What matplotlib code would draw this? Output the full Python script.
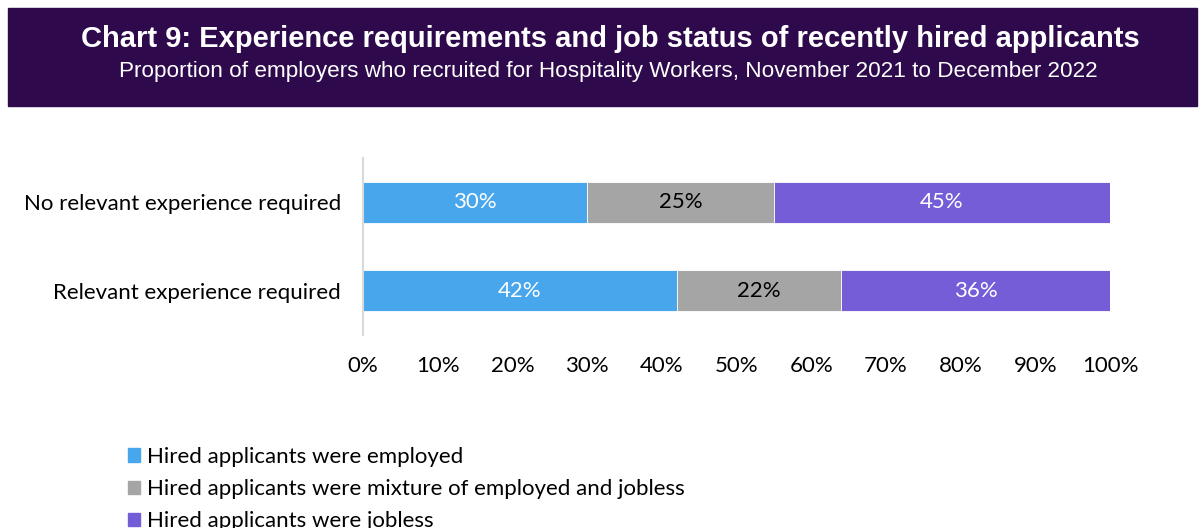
import matplotlib
matplotlib.use('Agg')
from matplotlib import pyplot as plt
from matplotlib.patches import Rectangle, Patch
import numpy as np

categories = ['Relevant experience required', 'No relevant experience required']
employed = [42, 30]
mixture = [22, 25]
jobless = [36, 45]
series_names = ['Hired applicants were employed',
                'Hired applicants were mixture of employed and jobless',
                'Hired applicants were jobless']
colors = ['#47A6EC', '#A5A5A5', '#765DD8']
label_colors = ['white', 'black', 'white']
xticks = [0, 10, 20, 30, 40, 50, 60, 70, 80, 90, 100]

plt.rcParams['font.family'] = ['Lato', 'DejaVu Sans']
fs = 16

fig = plt.figure(figsize=(12.03, 5.28), dpi=100)

# header band
fig.patches.append(Rectangle((8/1203, 1-106/528), 1189/1203, 98/528,
                             transform=fig.transFigure, color='#2E0A4D', zorder=0))
fig.text(0.507, 1-39/528, 'Chart 9: Experience requirements and job status of recently hired applicants',
         ha='center', va='center', color='white', fontsize=21, fontweight='bold',
         family='Liberation Sans')
fig.text(0.506, 1-72/528, 'Proportion of employers who recruited for Hospitality Workers, November 2021 to December 2022',
         ha='center', va='center', color='white', fontsize=16.2, family='Liberation Sans')

ax = fig.add_axes([363/1203, 1-335/528, 747/1203, 177/528])
y = np.arange(len(categories))
left = np.zeros(len(categories))
for vals, c, lc in zip([employed, mixture, jobless], colors, label_colors):
    vals = np.array(vals)
    ax.barh(y, vals, left=left, height=0.46, color=c, edgecolor='white', linewidth=0.6)
    for yi, l, v in zip(y, left, vals):
        ax.text(l + v/2, yi, f'{v}%', ha='center', va='center', color=lc, fontsize=fs)
    left += vals

ax.set_xlim(0, 100)
ax.set_ylim(-0.5, 1.5)
ax.set_xticks(xticks)
ax.set_xticklabels([f'{t}%' for t in xticks], fontsize=fs)
ax.set_yticks(y)
ax.set_yticklabels(categories, fontsize=fs)
ax.tick_params(length=0)
ax.tick_params(axis='x', pad=15)
ax.tick_params(axis='y', pad=16)
for s in ['top', 'right', 'bottom']:
    ax.spines[s].set_visible(False)
ax.spines['left'].set_color('#D9D9D9')
ax.spines['left'].set_linewidth(1.5)

handles = [Patch(color=c) for c in colors]
fig.legend(handles, series_names, loc='upper left', bbox_to_anchor=(128/1203, 1-447/528),
           frameon=False, fontsize=fs, handlelength=0.55, handleheight=0.55,
           handletextpad=0.3, labelspacing=0.55, borderpad=0, borderaxespad=0)

fig.savefig('out.png', dpi=100)
